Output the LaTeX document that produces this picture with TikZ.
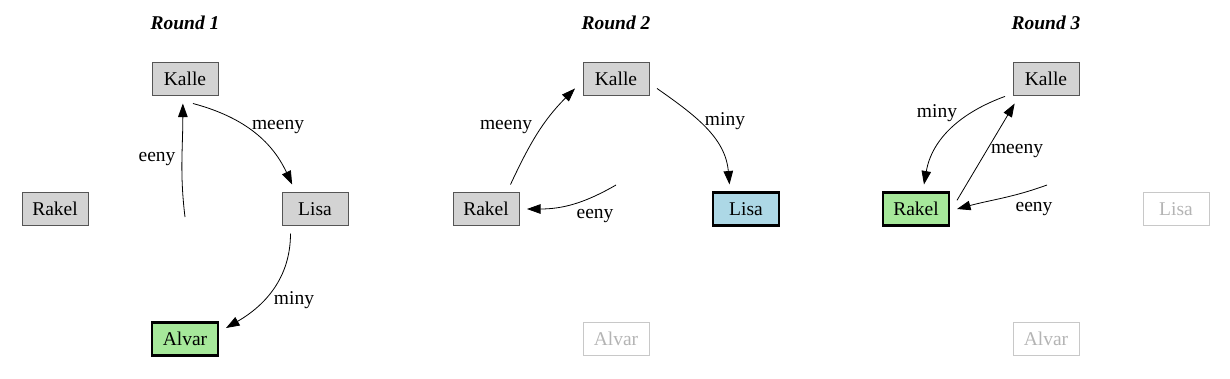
\documentclass[tikz,border=0pt]{standalone}
\usepackage{fontspec}
\setmainfont{Liberation Serif}
\usepackage{xcolor}
\usepackage{tikz}
\usetikzlibrary{arrows.meta, positioning}

\definecolor{kidgray}{HTML}{D3D3D3}
\definecolor{kidedge}{HTML}{555555}
\definecolor{kidgreen}{HTML}{A6E89A}
\definecolor{kidblue}{HTML}{ADD8E6}
\definecolor{gonedge}{HTML}{C8C8C8}
\definecolor{gontext}{HTML}{B4B4B4}

\tikzset{
    kid/.style={draw=kidedge, fill=kidgray, line width=0.9pt,
        minimum width=66pt, minimum height=33pt, inner sep=0pt, outer sep=8pt,
        font=\fontsize{19.5}{23}\selectfont},
    kidout/.style={kid, draw=black, line width=2.2pt, fill=kidgreen},
    kidsafe/.style={kid, draw=black, line width=2.2pt, fill=kidblue},
    kidgone/.style={kid, draw=gonedge, fill=none, text=gontext},
    lbl/.style={inner sep=1pt, font=\fontsize{19.5}{23}\selectfont},
    roundtitle/.style={inner sep=1pt, font=\fontsize{19.5}{23}\selectfont\bfseries\itshape}
}

\begin{document}
\begin{tikzpicture}[x=1pt, y=1pt, >={Triangle[length=13.5pt, width=9.5pt]}, line width=0.8pt]
    \useasboundingbox (0,0) rectangle (1230,-378);

    % Round 1
    \node[roundtitle] (t1) at (185,-23) {Round 1};
    \node[kid] (k1) at (185,-79) {Kalle};
    \node[kid] (r1) at (55,-209) {Rakel};
    \node[kid] (l1) at (315,-209) {Lisa};
    \node[kidout] (a1) at (185,-339) {Alvar};
    \coordinate (e1) at (185,-217);

    \draw[->] (e1) to[out=97, in=-90] (k1.-95);
    \draw[->] (k1.-72) to[out=-15, in=115] (l1.133);
    \draw[->] (l1.-135) to[out=-90, in=30] (a1.15);
    \node[lbl] (n1e) at (157,-159) {eeny};
    \node[lbl] (n1m) at (278,-127) {meeny};
    \node[lbl] (n1y) at (294,-300) {miny};

    % Round 2
    \node[roundtitle] (t2) at (616,-23) {Round 2};
    \node[kid] (k2) at (616,-79) {Kalle};
    \node[kid] (r2) at (486,-209) {Rakel};
    \node[kidsafe] (l2) at (746,-209) {Lisa};
    \node[kidgone] (a2) at (616,-339) {Alvar};
    \coordinate (e2) at (616,-185);

    \draw[->] (e2) to[out=-150, in=0] (r2.east);
    \draw[->] (r2.45) to[out=65, in=-135] (k2.193);
    \draw[->] (k2.-13) to[out=-35, in=95] (l2.124);
    \node[lbl] (n2e) at (595,-216) {eeny};
    \node[lbl] (n2m) at (506,-127) {meeny};
    \node[lbl] (n2y) at (725,-121) {miny};

    % Round 3
    \node[roundtitle] (t3) at (1046,-23) {Round 3};
    \node[kid] (k3) at (1046,-79) {Kalle};
    \node[kidout] (r3) at (916,-209) {Rakel};
    \node[kidgone] (l3) at (1176,-209) {Lisa};
    \node[kidgone] (a3) at (1046,-339) {Alvar};
    \coordinate (e3) at (1047,-185);

    \draw[->] (e3) to[out=200, in=15] (r3.east);
    \draw[->] (r3.12) -- (k3.218);
    \draw[->] (k3.203) to[out=200, in=80] (r3.72);
    \node[lbl] (n3e) at (1034,-209) {eeny};
    \node[lbl] (n3m) at (1017,-151) {meeny};
    \node[lbl] (n3y) at (937,-113) {miny};
\end{tikzpicture}
\end{document}
